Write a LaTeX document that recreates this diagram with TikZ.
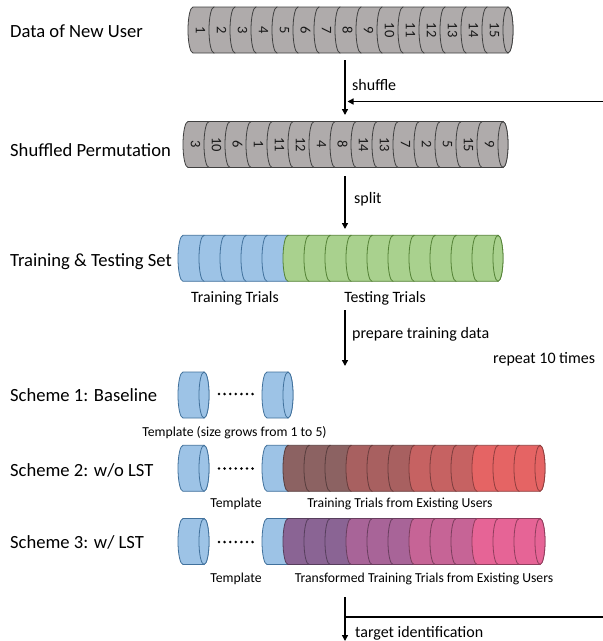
\documentclass[tikz,border=0pt]{standalone}
\usepackage{fontspec}
\setmainfont{Carlito}
\usetikzlibrary{arrows.meta}
\definecolor{grayfill}{HTML}{AFABAB}
\definecolor{grayline}{HTML}{404040}
\definecolor{bluefill}{HTML}{9DC3E6}
\definecolor{blueline}{HTML}{41719C}
\definecolor{greenfill}{HTML}{A9D18E}
\definecolor{greenline}{HTML}{538135}
\definecolor{rA}{HTML}{8C6262}
\definecolor{rB}{HTML}{A86060}
\definecolor{rC}{HTML}{C66262}
\definecolor{rD}{HTML}{E56464}
\definecolor{pA}{HTML}{8A6494}
\definecolor{pB}{HTML}{A86498}
\definecolor{pC}{HTML}{C66496}
\definecolor{pD}{HTML}{E66496}
\newcommand{\cylseg}[4]{%
  \path[#4] ({#1},{#3-23}) arc[start angle=90,end angle=270,x radius=5pt,y radius=23pt]
    -- ({#2},{#3+23}) arc[start angle=270,end angle=450,x radius=5pt,y radius=23pt] -- cycle;}
\newcommand{\cylface}[3]{%
  \path[#3] ({#1},{#2}) ellipse[x radius=5pt,y radius=23pt];}
\tikzset{
  grayseg/.style={fill=grayfill,draw=grayline,line width=0.8pt},
  blueseg/.style={fill=bluefill,draw=blueline,line width=0.8pt},
  greenseg/.style={fill=greenfill,draw=greenline,line width=0.8pt},
  colseg/.style={fill=#1,draw=#1!62!black,line width=0.8pt},
  rowlabel/.style={anchor=west,font=\fontsize{18.6}{20}\selectfont,text height=12pt,text depth=0pt,inner sep=0pt},
  flowlabel/.style={anchor=west,font=\fontsize{16}{18}\selectfont,text height=11pt,text depth=0pt,inner sep=0pt},
  sublabel/.style={font=\fontsize{15.8}{18}\selectfont,text height=11pt,text depth=0pt,inner sep=0pt},
  smalllabel/.style={font=\fontsize{13.7}{16}\selectfont,text height=9.5pt,text depth=0pt,inner sep=0pt},
  num/.style={font=\fontsize{14.5}{16}\selectfont,rotate=-90,inner sep=0pt,text=black!90},
  flow/.style={line width=1.3pt,draw=black,-{Triangle[length=6pt,width=6pt]}},
  plainflow/.style={line width=1.3pt,draw=black},
  dotmark/.style={fill=black,draw=none},
}
\begin{document}
\begin{tikzpicture}[x=1pt,y=-1pt]
\useasboundingbox (0,0) rectangle (603,641);
\fill[white] (0,0) rectangle (603,641);

% ---- Row labels
\node[rowlabel] (l1) at (10,31.5) {Data of New User};
\node[rowlabel] (l2) at (10,150) {Shuffled Permutation};
\node[rowlabel] (l3) at (10,260) {Training \& Testing Set};
\node[rowlabel] (l4) at (10,395) {Scheme 1: Baseline};
\node[rowlabel] (l5) at (10,470) {Scheme 2: w/o LST};
\node[rowlabel] (l6) at (10,542) {Scheme 3: w/ LST};

% ---- Row 1: data of new user
\foreach \k in {1,...,15} {\cylseg{193+21*(\k-1)}{193+21*\k}{30}{grayseg}}
\cylface{508}{30}{grayseg}
\foreach \n [count=\k] in {1,2,3,4,5,6,7,8,9,10,11,12,13,14,15}
  {\node[num] (a\k) at ({193+21*\k-13.5},30) {\n};}

% ---- Row 2: shuffled permutation
\foreach \k in {1,...,15} {\cylseg{188+21*(\k-1)}{188+21*\k}{144.5}{grayseg}}
\cylface{503}{144.5}{grayseg}
\foreach \n [count=\k] in {3,10,6,1,11,12,4,8,14,13,7,2,5,15,9}
  {\node[num] (b\k) at ({188+21*\k-13.5},144.5) {\n};}

% ---- Row 3: training & testing set
\foreach \k in {1,...,5} {\cylseg{183+21*(\k-1)}{183+21*\k}{258.3}{blueseg}}
\foreach \k in {6,...,15} {\cylseg{183+21*(\k-1)}{183+21*\k}{258.3}{greenseg}}
\cylface{498}{258.3}{greenseg}
\node[sublabel] (trn) at (235,297) {Training Trials};
\node[sublabel] (tst) at (385,297) {Testing Trials};

% ---- Scheme 1
\cylseg{183}{204}{395}{blueseg}
\cylface{204}{395}{blueseg}
\cylseg{267}{288}{395}{blueseg}
\cylface{288}{395}{blueseg}
\foreach \i in {0,...,6} {\fill[dotmark] ({219+5.6*\i},394) circle[radius=1.4pt];}
\node[smalllabel] (t1) at (234.5,432) {Template (size grows from 1 to 5)};

% ---- Scheme 2
\cylseg{183}{204}{468.3}{blueseg}
\cylface{204}{468.3}{blueseg}
\foreach \i in {0,...,6} {\fill[dotmark] ({219+5.6*\i},468.5) circle[radius=1.4pt];}
\cylseg{267}{288}{468.3}{blueseg}
\foreach \c [count=\k] in {rA,rA,rA,rB,rB,rB,rC,rC,rC,rD,rD,rD}
  {\cylseg{288+21*(\k-1)}{288+21*\k}{468.3}{colseg=\c}}
\cylface{540}{468.3}{colseg=rD}
\node[smalllabel] (t2) at (236,503) {Template};
\node[smalllabel] (e2) at (400,503) {Training Trials from Existing Users};

% ---- Scheme 3
\cylseg{183}{204}{541.5}{blueseg}
\cylface{204}{541.5}{blueseg}
\foreach \i in {0,...,6} {\fill[dotmark] ({219+5.6*\i},542) circle[radius=1.4pt];}
\cylseg{267}{288}{541.5}{blueseg}
\foreach \c [count=\k] in {pA,pA,pA,pB,pB,pB,pC,pC,pC,pD,pD,pD}
  {\cylseg{288+21*(\k-1)}{288+21*\k}{541.5}{colseg=\c}}
\cylface{540}{541.5}{colseg=pD}
\node[smalllabel] (t3) at (236,578) {Template};
\node[smalllabel] (e3) at (424,578) {Transformed Training Trials from Existing Users};

% ---- Connectors
\coordinate (s1) at (345,60);
\coordinate (e1) at (345,115);
\coordinate (r1) at (603,101.5);
\coordinate (q1) at (347.5,101.5);
\coordinate (s2) at (345,176);
\coordinate (e2c) at (345,229);
\coordinate (s3) at (345,310);
\coordinate (e3c) at (345,366);
\coordinate (s4) at (345,597);
\coordinate (e4) at (345,641);
\coordinate (j4) at (345,617);
\coordinate (r4) at (603,617);
\draw[flow] (s1) -- (e1);
\draw[flow] (r1) -- (q1);
\draw[flow] (s2) -- (e2c);
\draw[flow] (s3) -- (e3c);
\draw[flow] (s4) -- (e4);
\draw[plainflow] (j4) -- (r4);

\node[flowlabel] (shuf) at (352,85) {shuffle};
\node[flowlabel] (splt) at (354,198) {split};
\node[flowlabel] (prep) at (352,333) {prepare training data};
\node[flowlabel] (rep) at (493,358) {repeat 10 times};
\node[flowlabel] (tid) at (355,632) {target identification};
\end{tikzpicture}
\end{document}
